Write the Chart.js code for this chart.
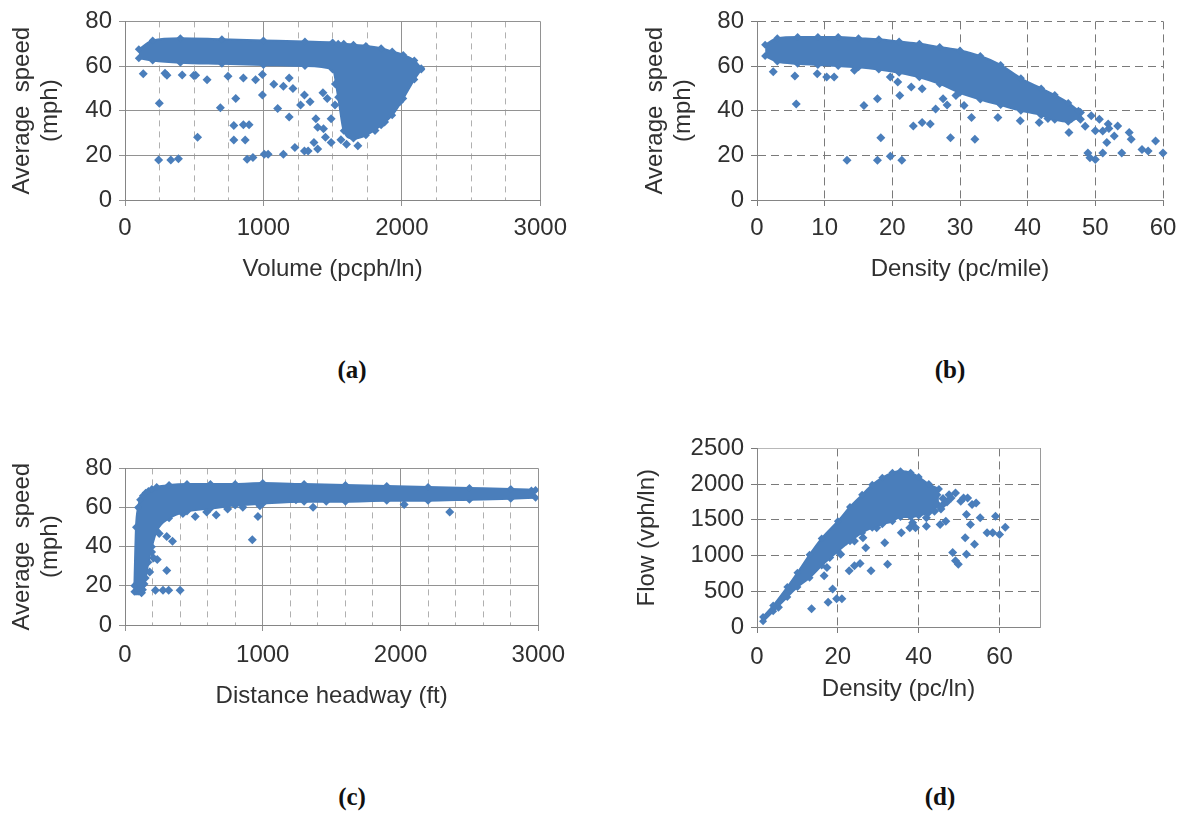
<!DOCTYPE html>
<html>
<head>
<meta charset="utf-8">
<script src="https://cdn.jsdelivr.net/npm/chart.js@4.4.1/dist/chart.umd.min.js"></script>
<style>
  body { margin: 0; background: #fff; width: 1187px; height: 813px; position: relative; overflow: hidden; }
  canvas { position: absolute; }
  .cap { position: absolute; font: bold 25px "Liberation Serif", serif; color: #111; transform: translate(-50%, -50%); }
</style>
</head>
<body>
<canvas id="chartA" width="575" height="290" style="left:0;top:0"></canvas>
<canvas id="chartB" width="554" height="290" style="left:633px;top:0"></canvas>
<canvas id="chartC" width="575" height="272" style="left:0;top:447px"></canvas>
<canvas id="chartD" width="440" height="283" style="left:625px;top:427px"></canvas>
<div class="cap" style="left:352px;top:370px">(a)</div>
<div class="cap" style="left:950px;top:370px">(b)</div>
<div class="cap" style="left:352px;top:797px">(c)</div>
<div class="cap" style="left:940px;top:797px">(d)</div>
<script>
// (a) speed vs volume: dense band (top / bottom edge) + scattered points
const aBandX   = [100, 200, 400, 700, 1000, 1300, 1500, 1540, 1580, 1650, 1740, 1850, 1930, 2010, 2090, 2140];
const aBandTop = [67.5, 71.5, 72.5, 72, 71.5, 71, 70.5, 70, 70, 69.5, 69, 68, 66.5, 65, 62.5, 59];
const aBandLow = [63.5, 62.5, 61.5, 61, 60.5, 60, 58.5, 46, 31, 27.5, 29, 33.5, 38, 45.5, 54, 58.5];
const aOutX = [132, 248, 303, 243, 331, 386, 524, 510, 593, 689,
               800, 786, 855, 896, 786, 868, 882, 924, 1006, 1034,
               993, 855, 943, 1103, 1144, 1186, 1227, 1296, 1323, 1365,
               1392, 1337, 1296, 1268, 1379, 1434, 1144, 1075, 1213, 1186,
               1448, 1489, 1392, 1489, 1517, 1461, 1875, 1806, 1682, 1985,
               744, 993, 413, 496, 289, 1430, 1520, 1600, 1560];
const aOutY = [56.5, 43.3, 55.9, 17.9, 17.9, 18.5, 28.1, 55.9, 53.9, 41.3,
               45.5, 33.4, 33.7, 33.7, 26.9, 26.9, 18.2, 19, 20.5, 20.5,
               47, 54.6, 53.9, 41, 20.5, 37.2, 23.5, 22, 22, 25.8,
               22.8, 44, 47, 42.5, 36.4, 31.9, 50.9, 51.9, 50, 54.6,
               28.1, 25.8, 32.6, 36.4, 42.5, 45.5, 34.9, 31.1, 24.3, 44,
               55.4, 56.2, 56, 55.8, 56.8, 48, 52, 25, 27];

// (b) speed vs density (pc/mile)
const bBandX   = [1.2, 3, 6, 9, 12, 15, 18, 21, 24, 27, 30, 33, 36, 39, 42, 44, 46, 47.5];
const bBandTop = [69.5, 72.5, 73, 73, 73, 72.5, 72, 71, 70, 68.5, 67, 64.5, 60.5, 54.5, 50, 47, 43.5, 40];
const bBandLow = [64.5, 62, 61, 60.5, 60, 59.5, 58.5, 57, 55, 52, 48, 45, 42.5, 40, 38, 36, 35, 37];
const bOutX = [2.4, 5.6, 5.8, 8.9, 10.3, 11.4, 14.4, 15.8, 17.8, 18.3,
               19.7, 20.8, 21.1, 19.7, 21.4, 17.8, 13.3, 23.1, 24.4, 25.6,
               24.4, 22.8, 26.4, 27.5, 28.1, 28.6, 29.4, 30.6, 31.7, 32.2,
               35.6, 38.9, 41.7, 46.1, 47.8, 48.9, 50, 49.2, 51.1, 51.7,
               51.9, 52.8, 53.3, 53.9, 55, 55.3, 56.9, 57.8, 58.9, 60,
               51.1, 47.8, 49.4, 50.6, 48.5, 50, 52, 46.5, 44.5, 43];
const bOutY = [57.4, 55.5, 43, 56.6, 55.1, 55.1, 58.1, 42.3, 45.3, 27.9,
               55.1, 52.8, 46.8, 19.6, 17.8, 17.8, 17.8, 33.2, 34.7, 34,
               49.8, 50.6, 40.8, 45.3, 42.6, 27.9, 46.8, 42.3, 37, 27.2,
               37, 35.5, 34.7, 30.2, 36.2, 21.1, 18.1, 18.9, 21.1, 25.7,
               34, 28.7, 33.2, 21.1, 30.2, 27.2, 22.6, 21.9, 26.4, 21.1,
               30.9, 39.2, 37.7, 36.2, 33, 31, 32, 36.5, 38, 36.5];

// (c) speed vs distance headway
const cBandX   = [68, 80, 95, 110, 130, 150, 170, 195, 230, 320, 450, 620, 800, 1000, 1300, 1600, 1900, 2200, 2500, 2800, 2980];
const cBandTop = [20, 50, 60, 64, 66, 67.5, 68.5, 69.5, 70.5, 71.5, 72, 72, 72, 72.5, 72, 71.5, 71, 70.5, 70, 69.5, 69];
const cBandLow = [17, 17, 17, 17, 18, 24, 32, 40, 48, 54.5, 58, 59.5, 61, 62, 63, 63, 63.5, 63.5, 64, 64.5, 65];
const cOutX = [97, 138, 179, 207, 234, 193, 248, 303, 345, 303,
               221, 276, 317, 400, 510, 593, 662, 745, 855, 924,
               965, 979, 1241, 1365, 1461, 2026, 2357, 110, 120, 160,
               280, 420, 2900, 2950];
const cOutY = [24.8, 20.9, 27.1, 34.2, 33.4, 37.3, 46.7, 45.2, 42.8, 27.9,
               17.7, 17.7, 17.7, 17.7, 55.4, 57.7, 56.2, 59.3, 60.1, 43.6,
               55.4, 60.9, 64, 60.1, 63.2, 61.6, 57.7, 20, 16.5, 38,
               55, 57, 67, 68.5];

// (d) flow vs density (pc/ln)
const dBandX   = [1.5, 4, 7.5, 10, 13, 16, 20, 23, 26, 28.5, 31, 33.5, 35.5, 38, 40, 42.5, 45];
const dBandTop = [140, 300, 560, 760, 1010, 1240, 1480, 1680, 1850, 1990, 2090, 2160, 2180, 2160, 2100, 2000, 1930];
const dBandLow = [80, 220, 420, 560, 690, 860, 1060, 1200, 1320, 1390, 1440, 1480, 1540, 1540, 1560, 1600, 1700];
const dOutX = [5.3, 13.5, 17.6, 18.7, 19.7, 21, 16.6, 17.3, 18, 20.7,
               22.8, 24.1, 25.5, 22.1, 24.1, 26.2, 26.9, 28.2, 29.6, 31.6,
               32.3, 35.7, 37.8, 39.2, 41.9, 45.3, 46, 48, 49.1, 50.4,
               51.1, 52.1, 53.2, 54.2, 55.2, 51.8, 52.8, 51.5, 53.8, 51.8,
               48.4, 49.1, 49.8, 56.9, 58.3, 59, 60, 61.4, 43.9, 46.7,
               38.5, 41.9, 43, 44.5, 46, 47, 44, 45.5, 47.5];
const dOutY = [278, 255, 347, 532, 394, 394, 718, 833, 972, 1019,
               787, 856, 889, 1204, 1204, 1250, 1111, 787, 1389, 1181,
               880, 1319, 1389, 1389, 1412, 1435, 1713, 1806, 1875, 1759,
               1806, 1806, 1713, 1736, 1528, 1574, 1435, 1250, 1157, 1019,
               1042, 926, 880, 1319, 1319, 1551, 1296, 1398, 1620, 1481,
               1458, 1528, 1900, 1850, 1800, 1750, 1750, 1650, 1850];

const BLUE = "#4A7EBB";
const TXT = "#303030";
const FONT = "Liberation Sans";
const tickFont = { family: FONT, size: 24 };
const titleFont = { family: FONT, size: 24, lineHeight: 1.17 };

const pts = (xs, ys) => xs.map((x, i) => ({ x: x, y: ys[i] }));

const band = (xs, top, low) => [
  { type: "line", data: pts(xs, top), fill: "+1" },
  { type: "line", data: pts(xs, low), fill: false }
].map(d => Object.assign(d, {
  borderColor: BLUE, backgroundColor: BLUE, borderWidth: 2,
  pointStyle: "rectRot", pointRadius: 4, pointBackgroundColor: BLUE, pointBorderWidth: 0,
  cubicInterpolationMode: "monotone"
}));

const scatter = (xs, ys) => ({
  type: "scatter", data: pts(xs, ys), clip: false,
  pointStyle: "rectRot", pointRadius: 4.5, backgroundColor: BLUE, borderWidth: 0
});

const plain = v => String(v);

function yAxis(max, step, title, width, gridColor, dash) {
  return {
    min: 0, max: max,
    ticks: { stepSize: step, color: TXT, font: tickFont, padding: 7, callback: plain },
    grid: { color: gridColor, tickLength: 6 },
    border: { color: "#858585", dash: dash },
    title: { display: true, text: title, color: TXT, font: titleFont, padding: 0 },
    afterFit: s => { s.width = width; }
  };
}

function xAxis(max, step, title, height, pad, titlePad, gridColor, dash) {
  return {
    type: "linear", min: 0, max: max,
    ticks: { stepSize: step, color: TXT, font: tickFont, padding: pad, maxRotation: 0, callback: plain },
    grid: { color: gridColor, tickLength: 6 },
    border: { color: "#858585", dash: dash },
    title: { display: true, text: title, color: TXT, font: { family: FONT, size: 24 }, padding: { top: 0, bottom: titlePad } },
    afterFit: s => { s.height = height; }
  };
}

// dashed minor gridlines between the solid 1000 lines
function minorAxis(max, step) {
  return {
    type: "linear", axis: "x", position: "bottom", min: 0, max: max,
    ticks: { stepSize: step, display: false },
    grid: { drawTicks: false, color: c => (c.tick && c.tick.value % 1000 === 0) ? "rgba(0,0,0,0)" : "#b0b0b0" },
    border: { display: false, dash: [6, 5] },
    afterFit: s => { s.height = 0; }
  };
}

function baseOptions(padding, scales) {
  return {
    responsive: false, animation: false, events: [],
    layout: { padding: padding },
    plugins: { legend: { display: false }, tooltip: { enabled: false } },
    scales: scales
  };
}

const ySpeed = ["Average  speed", "(mph)"];

new Chart(document.getElementById("chartA"), {
  type: "scatter",
  data: { datasets: band(aBandX, aBandTop, aBandLow).concat([scatter(aOutX, aOutY)]) },
  options: baseOptions({ left: 8, top: 20, right: 32, bottom: 0 }, {
    x: xAxis(3000, 1000, "Volume (pcph/ln)", 90, 8, 6, "#929292", []),
    xMinor: minorAxis(3000, 250),
    y: yAxis(80, 20, ySpeed, 117, "#929292", [])
  })
});

new Chart(document.getElementById("chartB"), {
  type: "scatter",
  data: { datasets: band(bBandX, bBandTop, bBandLow).concat([scatter(bOutX, bOutY)]) },
  options: baseOptions({ left: 8, top: 20, right: 24, bottom: 0 }, {
    x: xAxis(60, 10, "Density (pc/mile)", 90, 8, 6, "#7a7a7a", [8, 5]),
    y: yAxis(80, 20, ySpeed, 116, "#7a7a7a", [8, 5])
  })
});

new Chart(document.getElementById("chartC"), {
  type: "scatter",
  data: { datasets: band(cBandX, cBandTop, cBandLow).concat([scatter(cOutX, cOutY)]) },
  options: baseOptions({ left: 8, top: 20, right: 32, bottom: 0 }, {
    x: xAxis(3000, 1000, "Distance headway (ft)", 94, 10, 8, "#929292", []),
    xMinor: minorAxis(3000, 200),
    y: yAxis(80, 20, ySpeed, 117, "#929292", [])
  })
});

const dX = xAxis(70, 20, "Density (pc/ln)", 83, 10, 6, "#7a7a7a", [8, 5]);
dX.ticks.includeBounds = false;
new Chart(document.getElementById("chartD"), {
  type: "scatter",
  data: { datasets: band(dBandX, dBandTop, dBandLow).concat([scatter(dOutX, dOutY)]) },
  options: baseOptions({ left: 8, top: 20, right: 25, bottom: 0 }, {
    x: dX,
    xTop: {
      type: "linear", axis: "x", position: "top", min: 0, max: 70,
      ticks: { display: false }, grid: { display: false },
      border: { color: "#b8b8b8" }, afterFit: s => { s.height = 0; }
    },
    y: yAxis(2500, 500, "Flow (vph/ln)", 124, "#7a7a7a", [8, 5]),
    yRight: {
      type: "linear", axis: "y", position: "right", min: 0, max: 2500,
      ticks: { display: false }, grid: { display: false },
      border: { color: "#9a9a9a" }, afterFit: s => { s.width = 0; }
    }
  })
});
</script>
</body>
</html>
